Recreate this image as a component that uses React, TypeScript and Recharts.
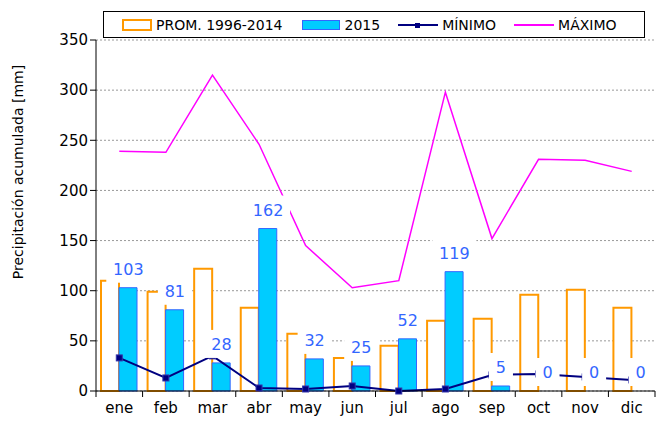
import { Bar, CartesianGrid, ComposedChart, LabelList, Line, XAxis, YAxis } from 'recharts'

const months = ['ene', 'feb', 'mar', 'abr', 'may', 'jun', 'jul', 'ago', 'sep', 'oct', 'nov', 'dic']
const prom = [110, 99, 122, 83, 57, 33, 45, 70, 72, 96, 101, 83]
const y2015 = [103, 81, 28, 162, 32, 25, 52, 119, 5, 0, 0, 0]
const minimo = [33, 13, 35, 3, 2, 5, 0, 2, 16, 17, 14, 11]
const maximo = [239, 238, 315, 246, 145, 103, 110, 298, 152, 231, 230, 219]
const yTicks = [0, 50, 100, 150, 200, 250, 300, 350]

const data = months.map((m, i) => ({
  month: m,
  prom: prom[i],
  y2015: y2015[i],
  minimo: minimo[i],
  maximo: maximo[i],
}))

const FONT = 'Tahoma, "DejaVu Sans", sans-serif'
const WIDTH = 657
const HEIGHT = 423
const LEFT = 96
const RIGHT = 2
const BAND = (WIDTH - LEFT - RIGHT) / months.length

const MonthTick = (props: any) => {
  const { x, y, payload, index } = props
  return (
    <g>
      <line x1={x - BAND / 2} x2={x - BAND / 2} y1={y - 8} y2={y - 2} stroke="#000" />
      {index === months.length - 1 && (
        <line x1={x + BAND / 2} x2={x + BAND / 2} y1={y - 8} y2={y - 2} stroke="#000" />
      )}
      <text x={x} y={y + 14} textAnchor="middle" fontSize={15} fontFamily={FONT} fill="#000">
        {payload.value}
      </text>
    </g>
  )
}

// white box behind each value, drawn over the lines like in the original
const ValueLabel = (props: any) => {
  const { x, y, value } = props
  const cx = x + 9
  const cy = y - 19
  const w = String(value).length * 10 + 14
  return (
    <g>
      <rect x={cx - w / 2} y={cy - 14} width={w} height={28} fill="#fff" />
      <text x={cx} y={cy + 6} textAnchor="middle" fontSize={16} fontFamily={FONT} fill="#3366ff">
        {value}
      </text>
    </g>
  )
}

const AxisTitle = () => (
  <text
    transform="translate(23,172) rotate(-90)"
    textAnchor="middle"
    fontSize={14}
    fontFamily={FONT}
    fill="#000"
  >
    Precipitación acumulada [mm]
  </text>
)

const SquareDot = (props: any) => {
  const { cx, cy } = props
  return <rect x={cx - 3} y={cy - 3} width={6} height={6} fill="#000080" stroke="#3333aa" />
}

const LegendBox = () => (
  <div
    style={{
      position: 'absolute',
      left: 103,
      top: 11,
      width: 542,
      border: '1px solid #000',
      background: '#fff',
      height: 27,
      display: 'flex',
      alignItems: 'center',
      fontFamily: FONT,
      fontSize: 14,
      color: '#000',
      boxSizing: 'border-box',
    }}
  >
    <span style={{ marginLeft: 18, width: 26, height: 8, border: '2px solid #ff9900', background: '#fff' }} />
    <span style={{ marginLeft: 4 }}>PROM. 1996-2014</span>
    <span style={{ marginLeft: 20, width: 36, height: 8, border: '1px solid #3366ff', background: '#00ccff' }} />
    <span style={{ marginLeft: 4 }}>2015</span>
    <svg width={40} height={10} style={{ marginLeft: 18 }}>
      <line x1={0} x2={40} y1={5} y2={5} stroke="#000080" strokeWidth={2} />
      <rect x={17} y={3} width={5} height={5} fill="#000080" />
    </svg>
    <span style={{ marginLeft: 4 }}>MÍNIMO</span>
    <svg width={40} height={10} style={{ marginLeft: 18 }}>
      <line x1={0} x2={40} y1={5} y2={5} stroke="#ff00ff" strokeWidth={2} />
    </svg>
    <span style={{ marginLeft: 4 }}>MÁXIMO</span>
  </div>
)

export default function App() {
  return (
    <div style={{ position: 'absolute', left: 0, top: 0, width: WIDTH, height: HEIGHT, background: '#fff' }}>
      <ComposedChart
        width={WIDTH}
        height={HEIGHT}
        data={data}
        margin={{ top: 40, right: RIGHT, bottom: 0, left: 0 }}
        barGap={0}
        barSize={18}
      >
        <CartesianGrid vertical={false} stroke="#999" strokeDasharray="2 2" />
        <XAxis
          dataKey="month"
          height={32}
          tickLine={false}
          axisLine={{ stroke: '#000' }}
          tick={<MonthTick />}
          interval={0}
        />
        <YAxis
          width={LEFT}
          domain={[0, 350]}
          ticks={yTicks}
          axisLine={{ stroke: '#000' }}
          tickLine={{ stroke: '#000' }}
          tickSize={6}
          tick={{ fontSize: 15, fontFamily: FONT, fill: '#000' }}
          label={{ content: <AxisTitle /> }}
        />
        <Bar dataKey="prom" fill="#fff" stroke="#ff9900" strokeWidth={2} isAnimationActive={false} />
        <Bar dataKey="y2015" fill="#00ccff" stroke="#3366ff" strokeWidth={1} isAnimationActive={false} />
        <Line
          dataKey="minimo"
          stroke="#000080"
          strokeWidth={2}
          dot={<SquareDot />}
          isAnimationActive={false}
        />
        <Line dataKey="maximo" stroke="#ff00ff" strokeWidth={1.5} dot={false} isAnimationActive={false} />
        <Line dataKey="y2015" stroke="none" dot={false} activeDot={false} isAnimationActive={false}>
          <LabelList dataKey="y2015" content={<ValueLabel />} />
        </Line>
      </ComposedChart>
      <LegendBox />
    </div>
  )
}
